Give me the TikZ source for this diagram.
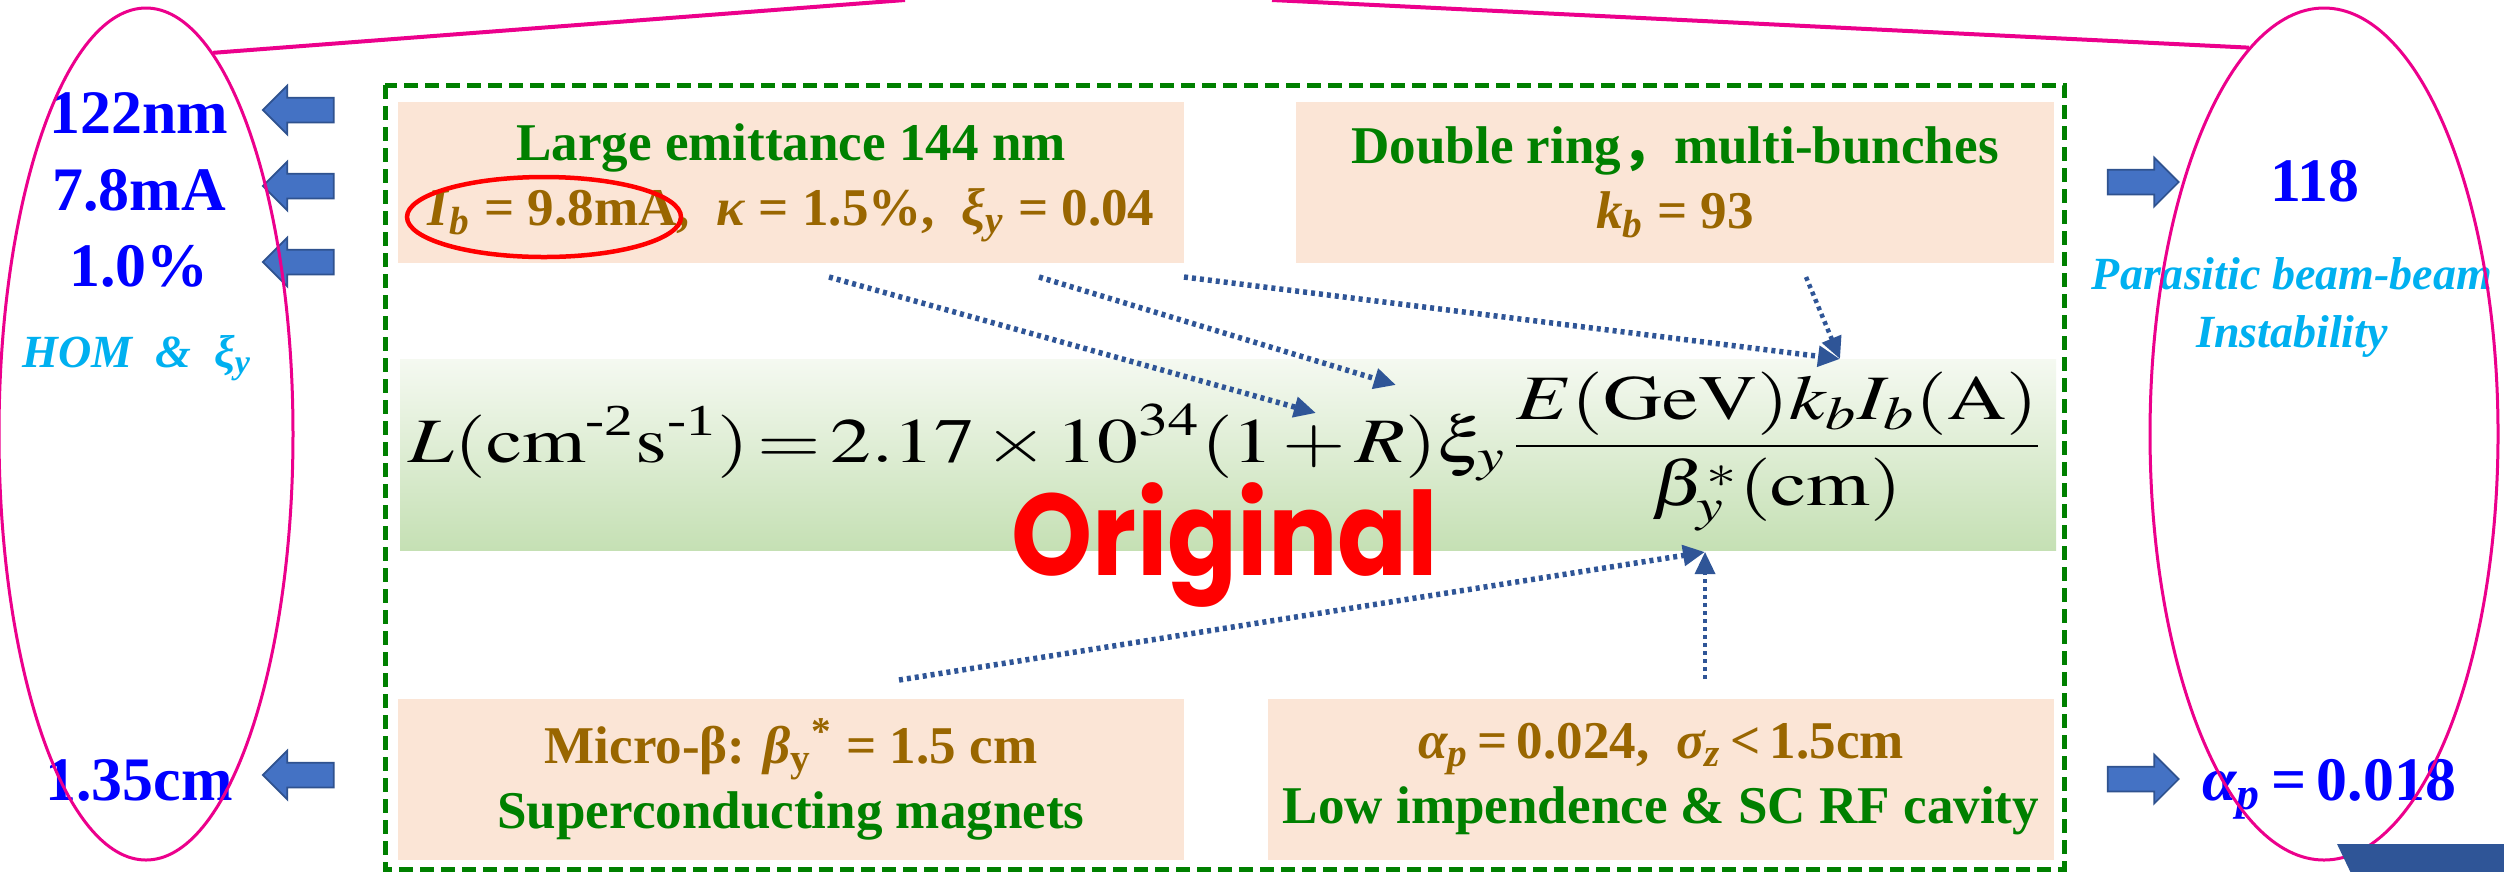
\documentclass[tikz,border=0pt]{standalone}
\usepackage{mathptmx}
\usepackage{fontspec}
\setmainfont{Liberation Serif}
\newfontfamily\popfont{Poppins}
\newfontfamily\cjk{Noto Sans CJK SC}
\usepackage{graphicx}
\usetikzlibrary{shapes.arrows, shapes.geometric, arrows.meta}
\definecolor{peach}{HTML}{FBE5D6}
\definecolor{leaf}{HTML}{008000}
\definecolor{ochre}{HTML}{996600}
\definecolor{sky}{HTML}{00B0F0}
\definecolor{valblue}{HTML}{0000FF}
\definecolor{navy}{HTML}{2F5597}
\definecolor{arrowfill}{HTML}{4472C4}
\definecolor{arrowedge}{HTML}{2F528F}
\definecolor{bandtop}{HTML}{F5F9F1}
\definecolor{bandbot}{HTML}{C5E0B4}
\tikzset{
  pbox/.style = {fill=peach, minimum width=7.86cm, minimum height=1.61cm,
    inner sep=0pt, align=center, font=\fontsize{15.1}{18.5}\selectfont\bfseries},
  band/.style = {top color=bandtop, bottom color=bandbot, minimum width=16.56cm,
    minimum height=1.91cm, inner sep=0pt},
  val/.style = {text=valblue, anchor=base, inner sep=0pt,
    font=\fontsize{17.6}{20}\selectfont\bfseries},
  note/.style = {text=sky, align=center, inner sep=0pt,
    font=\fontsize{13.1}{16.5}\selectfont\bfseries\itshape},
  blk/.style = {single arrow, draw=arrowedge, fill=arrowfill, line width=0.5pt,
    minimum height=0.71cm, minimum width=0.47cm, single arrow head extend=0.12cm,
    inner xsep=0pt, inner ysep=0.115cm},
  ring/.style = {ellipse, draw=magenta, line width=0.03cm, inner sep=0pt},
  mline/.style = {draw=magenta, line width=0.04cm},
  dots/.style = {draw=navy, line width=0.055cm, dash pattern=on 0.04cm off 0.04cm,
    -{Triangle[length=0.22cm, width=0.2cm]}},
  frame/.style = {draw=leaf, line width=0.05cm, dash pattern=on 0.14cm off 0.07cm}
}
\newcommand{\lo}[1]{\textsubscript{#1}}
\newcommand{\hi}[1]{\textsuperscript{#1}}
\newcommand{\grn}[1]{\textcolor{leaf}{#1}}
\newcommand{\brn}[1]{\textcolor{ochre}{#1}}
\newcommand{\hy}[1]{\mbox{\fontsize{12.6}{14}\selectfont -#1}}

\begin{document}
\begin{tikzpicture}
  \path [use as bounding box, fill=white] (0,0) rectangle (25.04,-8.71);

  % luminosity formula
  \node [band] (band) at (12.28,-4.545) {};
  \node [anchor=base] (lum) at (12.26,-4.62) {\scalebox{1.29}[1]{\fontsize{18}{20}\selectfont
    \thickmuskip=2mu \medmuskip=2mu \thinmuskip=1mu
    $\displaystyle L(\mathrm{cm}^{\hy2}\mathrm{s}^{\hy1})=2.17\times10^{34}(1+R)\xi_y\,
    \frac{E(\mathrm{GeV})k_bI_b(\mathrm{A})}{\beta_y^*(\mathrm{cm})}$}};
  \node [anchor=base, text=red, font=\fontsize{33}{36}\popfont\bfseries] (orig)
    at (12.25,-5.75) {\scalebox{0.89}[1]{Original}};

  % parameter boxes
  \node [pbox] (tl) at (7.91,-1.825) {\grn{Large emittance 144 nm}\\
    \brn{\textit{I}\lo{\textit{b}} = 9.8mA,~ \textit{κ} = 1.5\%,~ \textit{ξ}\lo{\textit{y}} = 0.04}};
  \node [pbox, minimum width=7.58cm] (tr) at (16.75,-1.825) {\grn{Double ring{\cjk ，}multi-bunches}\\
    \brn{\textit{k}\lo{\textit{b}} = 93}};
  \node [pbox] (bl) at (7.91,-7.795) {\brn{Micro-β: \textit{β}\lo{y}\hi{*} = 1.5 cm}\\
    \grn{Superconducting magnets}};
  \node [pbox] (br) at (16.61,-7.795) {\brn{\textit{α\lo{p}}\,=\,0.024,~ \textit{σ\lo{z}}\,<\,1.5cm}\\
    \grn{Low impendence \& SC RF cavity}};
  \draw [red, line width=0.045cm] (5.44,-2.17) ellipse [x radius=1.37, y radius=0.40];
  \draw [frame] (3.85,-0.85) rectangle (20.64,-8.69);

  % values on the left
  \foreach \t/\y [count=\i] in {122nm/1.33, 7.8mA/2.10, 1.0\%/2.86, 1.35cm/8.00}
    \node [val] (v\i) at (1.39,-\y) {\t};
  \foreach \y [count=\i] in {1.10, 1.86, 2.62, 7.75}
    \node [blk, shape border rotate=180] (a\i) at (3.045,-\y) {};
  \node [note, anchor=base] (hom) at (1.37,-3.67) {HOM~~\&~~ξ\lo{y}};

  % values on the right
  \node [blk] (a5) at (21.37,-1.82) {};
  \node [blk] (a6) at (21.37,-7.79) {};
  \node [val] (v5) at (23.15,-2.01) {118};
  \node [note] (par) at (22.92,-3.07) {Parasitic beam-beam\\Instability};
  \node [val] (v6) at (23.29,-8.00) {\textit{α\lo{p}}\,=\,0.018};

  % dotted pointers
  \coordinate (s1) at (8.29,-2.77);
  \coordinate (s2) at (10.39,-2.77);
  \coordinate (s3) at (11.84,-2.77);
  \coordinate (s4) at (18.06,-2.77);
  \coordinate (s5) at (8.99,-6.80);
  \coordinate (s6) at (17.05,-6.79);
  \coordinate (e1) at (13.16,-4.13);
  \coordinate (e2) at (13.96,-3.85);
  \coordinate (e3) at (18.40,-3.59);
  \coordinate (e5) at (17.05,-5.52);
  \draw [dots] (s1) -- (e1);
  \draw [dots] (s2) -- (e2);
  \draw [dots] (s3) -- (e3);
  \draw [dots, line width=0.045cm] (s4) -- (e3);
  \draw [dots] (s5) -- (e5);
  \draw [dots, line width=0.035cm, dash pattern=on 0.04cm off 0.04cm] (s6) -- (e5);

  % magenta rings
  \node [ring, minimum width=2.94cm, minimum height=8.52cm] (lring) at (1.46,-4.34) {};
  \node [ring, minimum width=3.48cm, minimum height=8.52cm] (rring) at (23.24,-4.34) {};
  \coordinate (ltop) at (9.05,0);
  \coordinate (rtop) at (12.72,0);
  \draw [mline] (lring.80) -- (ltop);
  \draw [mline] (rring.101) -- (rtop);

  % corner
  \fill [navy] (23.37,-8.44) -- (25.3,-8.44) -- (25.3,-8.9) -- (23.59,-8.9) -- cycle;
\end{tikzpicture}
\end{document}
